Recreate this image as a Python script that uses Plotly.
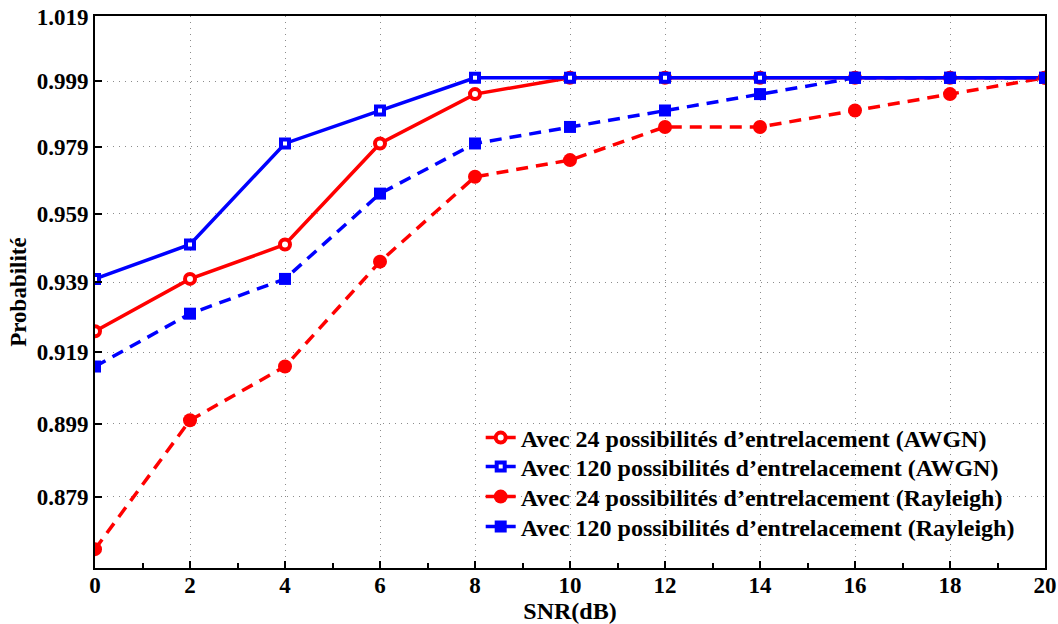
import math
import plotly.graph_objects as go

snr = [0, 2, 4, 6, 8, 10, 12, 14, 16, 18, 20]
awgn_24 = [0.925, 0.940, 0.950, 0.980, 0.995, 1.0, 1.0, 1.0, 1.0, 1.0, 1.0]
awgn_120 = [0.940, 0.950, 0.980, 0.990, 1.0, 1.0, 1.0, 1.0, 1.0, 1.0, 1.0]
ray_24 = [0.865, 0.900, 0.915, 0.945, 0.970, 0.975, 0.985, 0.985, 0.990, 0.995, 1.0]
ray_120 = [0.915, 0.930, 0.940, 0.965, 0.980, 0.985, 0.990, 0.995, 1.0, 1.0, 1.0]
y_ticks = [0.879, 0.899, 0.919, 0.939, 0.959, 0.979, 0.999, 1.019]
x_ticks = [0, 2, 4, 6, 8, 10, 12, 14, 16, 18, 20]
names = [
    "Avec 24 possibilités d\u2019entrelacement (AWGN)",
    "Avec 120 possibilités d\u2019entrelacement (AWGN)",
    "Avec 24 possibilités d\u2019entrelacement (Rayleigh)",
    "Avec 120 possibilités d\u2019entrelacement (Rayleigh)",
]

FONT = "Liberation Serif"
RED = "#ff0000"
BLUE = "#0000ff"
DASH = "12px,8px"
GRID = "1px,5px"

fig = go.Figure()
fig.add_trace(go.Scatter(x=snr, y=awgn_24, name="<b>%s</b>" % names[0], mode="lines+markers",
                         legend="legend",
                         line=dict(color=RED, width=3.5),
                         marker=dict(symbol="circle", size=10, color="white",
                                     line=dict(color=RED, width=4))))
fig.add_trace(go.Scatter(x=snr, y=awgn_120, name="<b>%s</b>" % names[1], mode="lines+markers",
                         legend="legend2",
                         line=dict(color=BLUE, width=3.5),
                         marker=dict(symbol="square", size=8, color="white",
                                     line=dict(color=BLUE, width=4))))
fig.add_trace(go.Scatter(x=snr, y=ray_24, name="<b>%s</b>" % names[2], mode="lines+markers",
                         legend="legend3",
                         line=dict(color=RED, width=3.5, dash=DASH),
                         marker=dict(symbol="circle", size=14, color=RED)))
fig.add_trace(go.Scatter(x=snr, y=ray_120, name="<b>%s</b>" % names[3], mode="lines+markers",
                         legend="legend4",
                         line=dict(color=BLUE, width=3.5, dash=DASH),
                         marker=dict(symbol="square", size=12, color=BLUE)))

# plot area in the window: x 95..1045, y 16..568
PLOT_H = 552.0
def ypaper(px):
    return (568.0 - px) / PLOT_H

leg_common = dict(x=0.406, xanchor="left", yanchor="middle",
                  bgcolor="rgba(0,0,0,0)", borderwidth=0,
                  font=dict(family=FONT, size=24, color="black"))

fig.update_layout(
    width=1058, height=624,
    margin=dict(l=95, r=13, t=16, b=56),
    paper_bgcolor="white", plot_bgcolor="white",
    font=dict(family=FONT, size=22, color="black"),
    showlegend=True,
    legend=dict(y=ypaper(438), **leg_common),
    legend2=dict(y=ypaper(467), **leg_common),
    legend3=dict(y=ypaper(497), **leg_common),
    legend4=dict(y=ypaper(527), **leg_common),
    shapes=[dict(type="rect", xref="paper", yref="paper",
                 x0=0.395, x1=0.965, y0=ypaper(545), y1=ypaper(423),
                 fillcolor="white", line=dict(width=0), layer="between")],
)
fig.update_xaxes(
    range=[0, 20], tickmode="array", tickvals=x_ticks,
    ticktext=["<b>%d</b>" % v for v in x_ticks],
    tickfont=dict(family=FONT, size=23, color="black"),
    ticks="inside", ticklen=7, tickwidth=1.5, tickcolor="black",
    ticklabelstandoff=-5,
    minor=dict(dtick=1, tick0=0, ticks="inside", ticklen=5, tickwidth=1.5,
               tickcolor="black", showgrid=False),
    showline=True, linecolor="black", linewidth=2, mirror=True,
    showgrid=True, gridcolor="#8c8c8c", gridwidth=1, griddash=GRID,
    zeroline=False, automargin=False,
    title=dict(text="<b>SNR(dB)</b>", standoff=0,
               font=dict(family=FONT, size=24, color="black")),
)
fig.update_yaxes(
    type="log", range=[math.log10(0.860), math.log10(1.0192)],
    tickmode="array", tickvals=y_ticks,
    ticktext=["<b>%.3f</b>" % v for v in y_ticks],
    tickfont=dict(family=FONT, size=23, color="black"),
    ticks="inside", ticklen=7, tickwidth=1.5, tickcolor="black",
    showline=True, linecolor="black", linewidth=2, mirror=True,
    showgrid=True, gridcolor="#8c8c8c", gridwidth=1, griddash=GRID,
    zeroline=False, automargin=False,
    title=dict(text="<b>Probabilité</b>", standoff=4,
               font=dict(family=FONT, size=23, color="black")),
)

fig.write_html("out.html",
               config={"displayModeBar": False},
               post_script="document.body.style.margin='0';"
                           "document.body.style.overflow='hidden';")
